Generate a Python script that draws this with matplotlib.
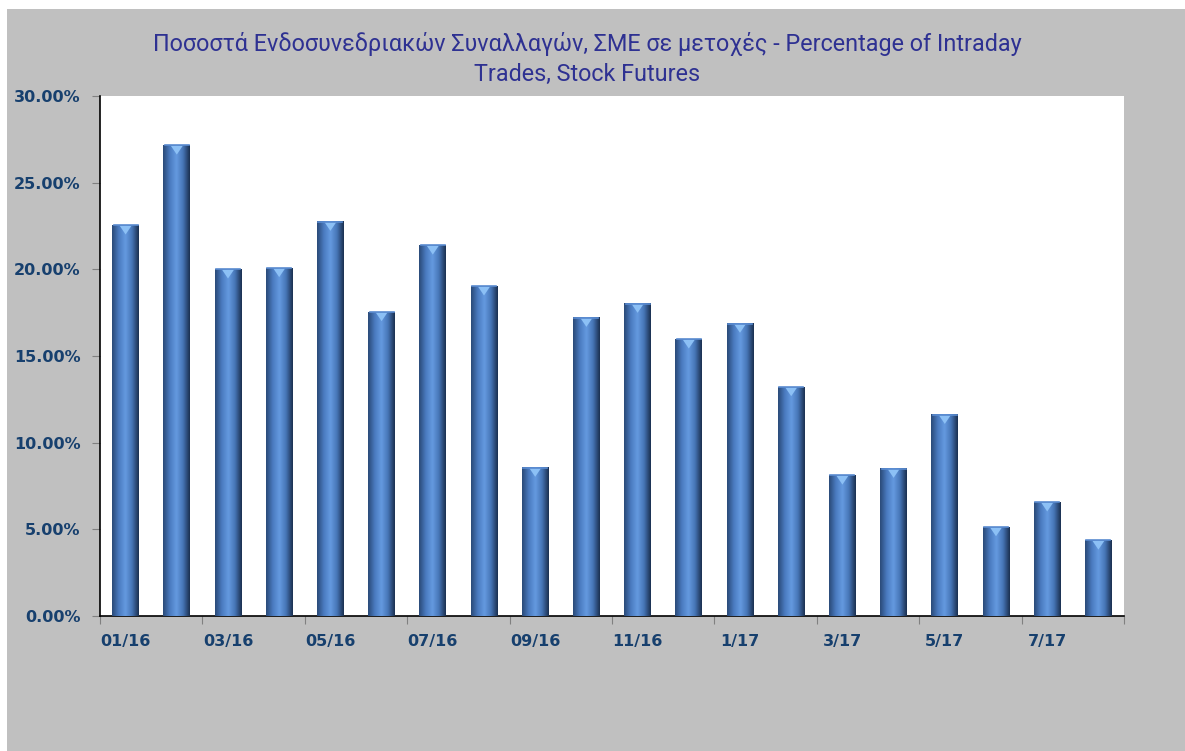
import matplotlib
matplotlib.use("Agg")
import matplotlib.pyplot as plt
import numpy as np
from matplotlib.patches import Rectangle
from matplotlib.colors import LinearSegmentedColormap
from matplotlib.ticker import FixedLocator, PercentFormatter

months = ["01/16", "02/16", "03/16", "04/16", "05/16", "06/16", "07/16", "08/16",
          "09/16", "10/16", "11/16", "12/16", "1/17", "2/17", "3/17", "4/17",
          "5/17", "6/17", "7/17", "8/17"]
values = [22.56, 27.17, 20.02, 20.10, 22.77, 17.56, 21.40, 19.04, 8.58, 17.23,
          18.04, 15.98, 16.89, 13.23, 8.13, 8.52, 11.63, 5.15, 6.58, 4.38]
shown_labels = ["01/16", "03/16", "05/16", "07/16", "09/16", "11/16", "1/17", "3/17", "5/17", "7/17"]
yticks = [0, 5, 10, 15, 20, 25, 30]

title = "Ποσοστά Ενδοσυνεδριακών Συναλλαγών, ΣΜΕ σε μετοχές - Percentage of Intraday\nTrades, Stock Futures"

W, H = 1185, 751
fig = plt.figure(figsize=(W / 100, H / 100), dpi=100, facecolor="white")
bg = Rectangle((7 / W, 0), 1 - 7 / W, (H - 9) / H, transform=fig.transFigure,
               facecolor="#C0C0C0", edgecolor="none", zorder=-10)
fig.add_artist(bg)

ax = fig.add_axes([100 / W, (H - 616) / H, 1024 / W, 520 / H])
ax.set_zorder(1)
ax.set_facecolor("white")

x = np.arange(len(values))
bars = ax.bar(x, values, width=0.52, color="#4A78B8", edgecolor="none", zorder=2)

cmap = LinearSegmentedColormap.from_list("cyl", ["#2A4A78", "#4A7BC0", "#659AE0", "#4675B6", "#1B3050"])
grad = np.linspace(0, 1, 64).reshape(1, -1)
for b in bars:
    x0, w, h = b.get_x(), b.get_width(), b.get_height()
    im = ax.imshow(grad, cmap=cmap, aspect="auto", extent=(x0, x0 + w, 0, h),
                   zorder=3, interpolation="bicubic")
    im.set_clip_path(b)
    ax.fill([x0 + w * 0.28, x0 + w * 0.72, x0 + w * 0.5],
            [h - 0.05, h - 0.05, h - 0.55], color="#8CC0F5", zorder=4, linewidth=0)
    ax.plot([x0 + w * 0.05, x0 + w * 0.95], [h - 0.02, h - 0.02], color="#5A8BD0", lw=1.2, zorder=4)

ax.set_xlim(-0.5, len(values) - 0.5)
ax.set_ylim(0, 30)

ax.yaxis.set_major_locator(FixedLocator(yticks))
ax.yaxis.set_major_formatter(PercentFormatter(decimals=2))

ax.xaxis.set_major_locator(FixedLocator(np.arange(-0.5, len(values), 2)))
ax.set_xticklabels([])
ax.set_xticks([months.index(m) for m in shown_labels], minor=True)
ax.set_xticklabels(shown_labels, minor=True)
ax.tick_params(axis="x", which="minor", length=0, pad=13)
ax.tick_params(axis="x", which="major", length=6, color="#808080", direction="out")
ax.tick_params(axis="y", length=6, color="#808080", direction="out", pad=8)

for lab in ax.get_xticklabels(minor=True) + ax.get_yticklabels():
    lab.set_color("#17406E")
    lab.set_fontsize(11.5)
    lab.set_fontweight("bold")
    lab.set_family(["DejaVu Sans"])

for s in ["top", "right"]:
    ax.spines[s].set_visible(False)
for s in ["left", "bottom"]:
    ax.spines[s].set_color("black")
    ax.spines[s].set_linewidth(1.2)

fig.text(587 / W, 1 - 59 / H, title, ha="center", va="center", color="#2E3192",
         fontsize=16.8, family=["Roboto", "DejaVu Sans"], linespacing=1.35)

fig.savefig("out.png", dpi=100, facecolor=fig.get_facecolor())
